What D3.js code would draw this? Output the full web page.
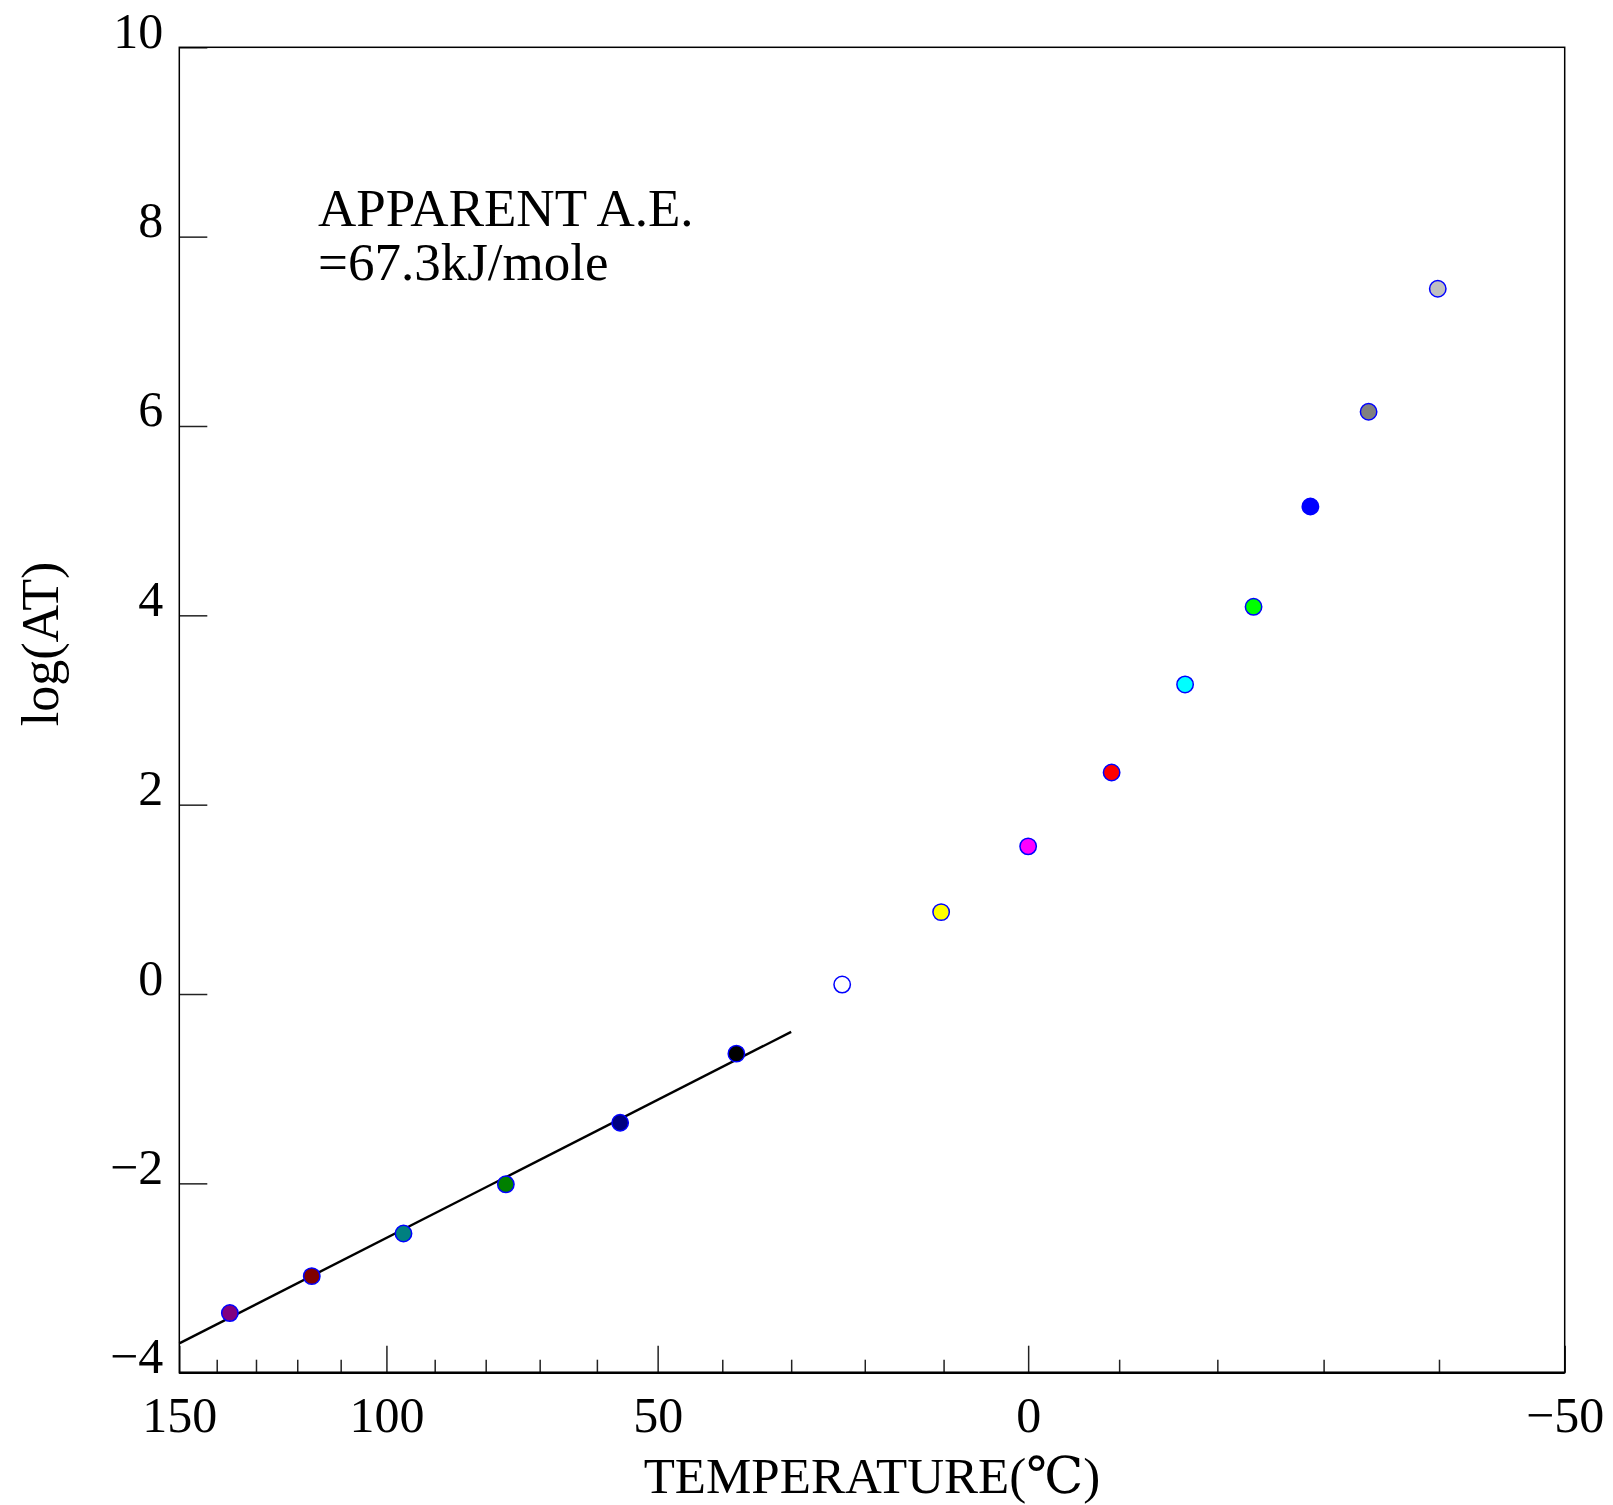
<!DOCTYPE html>
<html>
<head>
<meta charset="utf-8">
<script src="https://cdn.jsdelivr.net/npm/d3@7"></script>
<style>
  body { margin: 0; background: #fff; }
  svg text { font-family: "Liberation Serif", "DejaVu Serif", serif; fill: #000; }
</style>
</head>
<body>
<div id="chart"></div>
<script>
// temperatures (C) and shift factors
var temps  = [136.6, 116.6, 96.4, 76.2, 56.1, 37.9, 23.0, 10.3, 0, -9.2, -16.8, -23.5, -28.8, -34.0, -39.9];
var logAT  = [-3.37, -2.98, -2.53, -2.01, -1.36, -0.63, 0.10, 0.865, 1.56, 2.34, 3.27, 4.09, 5.15, 6.15, 7.45];
var fills  = ["#800080", "#800000", "#008080", "#008000", "#000080", "#000000", "#ffffff", "#ffff00",
              "#ff00ff", "#ff0000", "#00ffff", "#00ff00", "#0000ff", "#808080", "#c0c0c0"];

// fitted Arrhenius line, end points
var fitT   = [150, 30];
var fitLog = [-3.69, -0.40];

var majorT = [150, 100, 50, 0, -50];
var minorT = [140, 130, 120, 110, 90, 80, 70, 60, 40, 30, 20, 10, -10, -20, -30, -40];
var yTicks = [-4, -2, 0, 2, 4, 6, 8, 10];

var W = 1613, H = 1505;
var plotL = 179.3, plotR = 1564.7, plotT = 47.3, plotB = 1372.7;

var svg = d3.select("#chart").append("svg")
  .attr("width", W)
  .attr("height", H);

svg.append("rect").attr("width", W).attr("height", H).attr("fill", "#fff");

// x runs linear in 1/T (K)
var inv = function(t) { return 1 / (t + 273.15); };
var xs = d3.scaleLinear()
  .domain([inv(150), inv(-50)])
  .range([plotL, plotR]);
var x = function(t) { return xs(inv(t)); };

var y = d3.scaleLinear()
  .domain([-4, 10])
  .range([plotB, plotT]);

var fmt = function(v) { return v < 0 ? "\u2212" + Math.abs(v) : "" + v; };

// minor x ticks
svg.append("g")
  .attr("transform", "translate(0," + plotB + ")")
  .call(d3.axisBottom(xs).tickValues(minorT.map(inv)).tickSize(-13).tickFormat(""))
  .call(g => g.select(".domain").remove())
  .selectAll("line").attr("stroke", "#222").attr("stroke-width", 1.5);

// major x ticks
var xAxis = svg.append("g")
  .attr("transform", "translate(0," + plotB + ")")
  .call(d3.axisBottom(xs).tickValues(majorT.map(inv)).tickSize(-27)
    .tickFormat(d => fmt(Math.round(1 / d - 273.15))));
xAxis.select(".domain").remove();
xAxis.selectAll("line").attr("stroke", "#222").attr("stroke-width", 1.5);
xAxis.selectAll("text")
  .attr("dy", null)
  .attr("y", 59)
  .attr("fill", "#000")
  .style("font-size", "50px")
  .style("font-family", "Liberation Serif, serif");

// y axis
var yAxis = svg.append("g")
  .attr("transform", "translate(" + plotL + ",0)")
  .call(d3.axisLeft(y).tickValues(yTicks).tickSize(-28).tickFormat(fmt));
yAxis.select(".domain").remove();
yAxis.selectAll("line").attr("stroke", "#222").attr("stroke-width", 1.5);
yAxis.selectAll("text")
  .attr("dy", null)
  .attr("x", -16)
  .attr("fill", "#000")
  .style("font-size", "50px")
  .style("font-family", "Liberation Serif, serif");

// frame
svg.append("rect")
  .attr("x", plotL).attr("y", plotT)
  .attr("width", plotR - plotL).attr("height", plotB - plotT)
  .attr("fill", "none").attr("stroke", "#000").attr("stroke-width", 1.5);
svg.append("line")
  .attr("x1", plotL).attr("x2", plotR)
  .attr("y1", plotB).attr("y2", plotB)
  .attr("stroke", "#000").attr("stroke-width", 2.5);

// fit line
svg.append("path")
  .datum(fitT.map((t, i) => ({t: t, v: fitLog[i]})))
  .attr("fill", "none")
  .attr("stroke", "#000")
  .attr("stroke-width", 2.4)
  .attr("d", d3.line().x(d => x(d.t)).y(d => y(d.v)));

// points
svg.append("g").selectAll("circle")
  .data(temps.map((t, i) => ({t: t, v: logAT[i], c: fills[i]})))
  .enter().append("circle")
  .attr("cx", d => x(d.t))
  .attr("cy", d => y(d.v))
  .attr("r", 8.2)
  .attr("fill", d => d.c)
  .attr("stroke", "#0000ff")
  .attr("stroke-width", 1.5);

// annotation
var note = svg.append("text")
  .attr("x", 318)
  .attr("y", 226)
  .style("font-size", "53px");
note.append("tspan").attr("x", 318).text("APPARENT A.E.");
note.append("tspan").attr("x", 318).attr("y", 280).text("=67.3kJ/mole");

// axis titles
svg.append("text")
  .attr("x", (plotL + plotR) / 2)
  .attr("y", 1493)
  .attr("text-anchor", "middle")
  .style("font-size", "51px")
  .text("TEMPERATURE(\u2103)");

svg.append("text")
  .attr("transform", "translate(58,644) rotate(-90)")
  .attr("text-anchor", "middle")
  .style("font-size", "52px")
  .text("log(AT)");
</script>
</body>
</html>
